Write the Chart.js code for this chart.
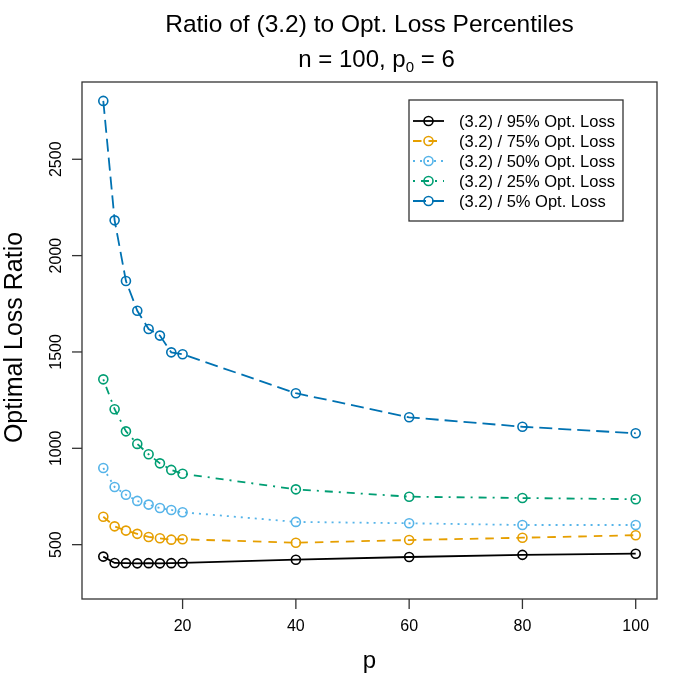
<!DOCTYPE html>
<html>
<head>
<meta charset="utf-8">
<title>Ratio of (3.2) to Opt. Loss Percentiles</title>
<script src="https://cdn.jsdelivr.net/npm/chart.js@4/dist/chart.umd.min.js"></script>
<style>
  html, body { margin: 0; padding: 0; background: #fff; }
  #chart { display: block; }
</style>
</head>
<body>
<canvas id="chart" width="700" height="700"></canvas>
<script>
// data
const pValues = [6, 8, 10, 12, 14, 16, 18, 20, 40, 60, 80, 100];
const ratio95 = [438, 405, 404, 403, 404, 403, 404, 405, 422, 436, 447, 453];
const ratio75 = [645, 595, 573, 556, 540, 533, 526, 528, 510, 524, 536, 549];
const ratio50 = [898, 799, 759, 727, 708, 690, 680, 668, 618, 611, 602, 602];
const ratio25 = [1358, 1203, 1088, 1023, 969, 922, 888, 868, 787, 749, 742, 736];
const ratio5 = [2803, 2183, 1868, 1714, 1619, 1585, 1498, 1488, 1286, 1161, 1112, 1078];

const seriesLabels = [
  '(3.2) / 95% Opt. Loss',
  '(3.2) / 75% Opt. Loss',
  '(3.2) / 50% Opt. Loss',
  '(3.2) / 25% Opt. Loss',
  '(3.2) / 5% Opt. Loss'
];
const seriesColors = ['#000000', '#E69F00', '#56B4E9', '#009E73', '#0072B2'];
const seriesDashes = [[], [8.5, 7], [2, 5], [2, 6, 8, 6], [13, 6]];

const xTicks = [20, 40, 60, 80, 100];
const yTicks = [500, 1000, 1500, 2000, 2500];

const FONT = '"Liberation Sans", Arial, Helvetica, sans-serif';
const FRAME = '#333333';

function toPoints(values) {
  return values.map((v, i) => ({ x: pValues[i], y: v }));
}

const allSeries = [ratio95, ratio75, ratio50, ratio25, ratio5];
const datasets = allSeries.map((vals, i) => ({
  label: seriesLabels[i],
  data: toPoints(vals),
  borderColor: seriesColors[i],
  borderWidth: 1.8,
  borderDash: seriesDashes[i],
  pointRadius: 4.5,
  pointBorderWidth: 1.6,
  pointBorderColor: seriesColors[i],
  pointBackgroundColor: 'rgba(0,0,0,0)',
  tension: 0,
  fill: false
}));

// R style frame, axes, titles and legend
const basePlotDecor = {
  id: 'basePlotDecor',
  afterDraw(chart) {
    const ctx = chart.ctx;
    const area = chart.chartArea;
    const xs = chart.scales.x;
    const ys = chart.scales.y;
    ctx.save();

    // box
    ctx.strokeStyle = FRAME;
    ctx.lineWidth = 1.3;
    ctx.setLineDash([]);
    ctx.strokeRect(area.left, area.top, area.right - area.left, area.bottom - area.top);

    // x axis ticks
    ctx.fillStyle = '#000';
    ctx.font = '16px ' + FONT;
    ctx.textAlign = 'center';
    ctx.textBaseline = 'middle';
    xTicks.forEach(t => {
      const px = xs.getPixelForValue(t);
      ctx.beginPath();
      ctx.moveTo(px, area.bottom);
      ctx.lineTo(px, area.bottom + 10);
      ctx.stroke();
      ctx.fillText(String(t), px, 627);
    });

    // y axis ticks, labels turned like R
    yTicks.forEach(t => {
      const py = ys.getPixelForValue(t);
      ctx.beginPath();
      ctx.moveTo(area.left, py);
      ctx.lineTo(area.left - 10, py);
      ctx.stroke();
      ctx.save();
      ctx.translate(61, py);
      ctx.rotate(-Math.PI / 2);
      ctx.textAlign = 'center';
      ctx.textBaseline = 'alphabetic';
      ctx.fillText(String(t), 0, 0);
      ctx.restore();
    });

    // axis titles
    ctx.font = '24px ' + FONT;
    ctx.textAlign = 'center';
    ctx.textBaseline = 'alphabetic';
    ctx.fillText('p', (area.left + area.right) / 2, 668);
    ctx.save();
    ctx.translate(22, (area.top + area.bottom) / 2 - 3);
    ctx.rotate(-Math.PI / 2);
    ctx.font = '25px ' + FONT;
    ctx.fillText('Optimal Loss Ratio', 0, 0);
    ctx.restore();

    // main title, two lines, second has a subscript
    const cx = (area.left + area.right) / 2;
    ctx.font = '24.5px ' + FONT;
    ctx.fillText('Ratio of (3.2) to Opt. Loss Percentiles', cx, 32);

    const partA = 'n = 100, p';
    const partSub = '0';
    const partB = ' = 6';
    ctx.font = '24px ' + FONT;
    const wA = ctx.measureText(partA).width;
    const wB = ctx.measureText(partB).width;
    ctx.font = '15px ' + FONT;
    const wSub = ctx.measureText(partSub).width;
    let sx = cx - (wA + wSub + wB) / 2 + 7;
    ctx.textAlign = 'left';
    ctx.font = '24px ' + FONT;
    ctx.fillText(partA, sx, 67);
    sx += wA;
    ctx.font = '15px ' + FONT;
    ctx.fillText(partSub, sx, 72);
    sx += wSub;
    ctx.font = '24px ' + FONT;
    ctx.fillText(partB, sx, 67);

    // legend
    const lgLeft = 409, lgTop = 100, lgRight = 623, lgBottom = 221;
    ctx.fillStyle = '#fff';
    ctx.fillRect(lgLeft, lgTop, lgRight - lgLeft, lgBottom - lgTop);
    ctx.strokeStyle = FRAME;
    ctx.lineWidth = 1.3;
    ctx.strokeRect(lgLeft, lgTop, lgRight - lgLeft, lgBottom - lgTop);
    ctx.font = '16.5px ' + FONT;
    ctx.textBaseline = 'middle';
    ctx.textAlign = 'left';
    seriesLabels.forEach((lab, i) => {
      const ry = 121 + i * 20;
      ctx.strokeStyle = seriesColors[i];
      ctx.lineWidth = 1.8;
      ctx.setLineDash(seriesDashes[i]);
      ctx.beginPath();
      ctx.moveTo(413, ry);
      ctx.lineTo(444, ry);
      ctx.stroke();
      ctx.setLineDash([]);
      ctx.lineWidth = 1.6;
      ctx.beginPath();
      ctx.arc(428.5, ry, 4.5, 0, Math.PI * 2);
      ctx.stroke();
      ctx.fillStyle = '#000';
      ctx.fillText(lab, 459, ry + 1);
    });

    ctx.restore();
  }
};

new Chart(document.getElementById('chart').getContext('2d'), {
  type: 'line',
  data: { datasets: datasets },
  options: {
    responsive: false,
    animation: false,
    devicePixelRatio: 1,
    layout: { padding: { left: 82, top: 82, right: 43, bottom: 101 } },
    plugins: {
      legend: { display: false },
      title: { display: false },
      tooltip: { enabled: false }
    },
    scales: {
      x: { type: 'linear', min: 2.24, max: 103.76, display: false },
      y: { type: 'linear', min: 218, max: 2901, display: false }
    }
  },
  plugins: [basePlotDecor]
});
</script>
</body>
</html>
